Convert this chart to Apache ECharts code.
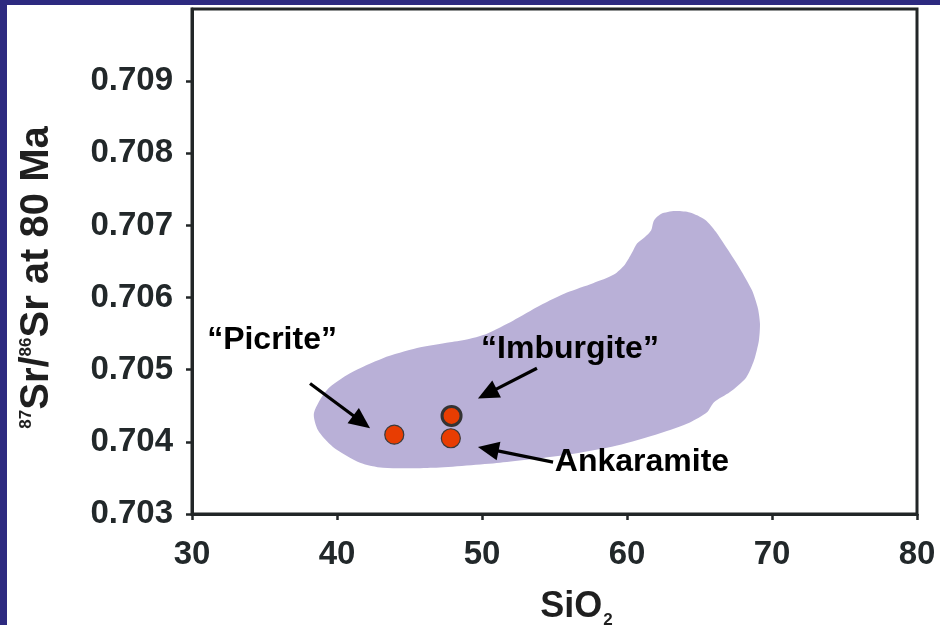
<!DOCTYPE html>
<html><head><meta charset="utf-8">
<script src="https://cdn.jsdelivr.net/npm/echarts@6/dist/echarts.min.js"></script>
<style>
html,body{margin:0;padding:0;width:940px;height:625px;background:#2d2a80;overflow:hidden}
#c{position:absolute;left:7px;top:5px;width:933px;height:620px;background:#ffffff}
</style></head><body><div id="c"></div>
<script>
// ---- data ----
const xMin = 30, xMax = 80, xStep = 10;
const yMin = 0.703, yMax = 0.710, yStep = 0.001;

const sampleNames = ['Picrite', 'Imburgite', 'Ankaramite'];
const sampleSiO2 = [43.95, 47.9, 47.85];
const sampleSr = [0.70410, 0.70436, 0.70405];

// outline of the shaded field (SiO2, 87Sr/86Sr)
const fieldSiO2 = [38.41, 38.69, 39.72, 41.59, 43.17, 46.62, 51.24, 55.86, 59.31, 62.28,
  64.34, 65.52, 66.00, 67.10, 68.21, 68.76, 69.10, 69.17, 69.03, 68.62,
  67.79, 66.90, 66.14, 65.38, 64.34, 63.31, 62.34, 61.86, 61.66, 61.24,
  60.69, 60.34, 59.86, 59.10, 57.66, 55.86, 54.00, 52.14, 50.34, 49.17,
  47.79, 45.52, 43.17, 40.90, 39.31];
const fieldSr = [0.70440, 0.70416, 0.70393, 0.70371, 0.70364, 0.70364, 0.70371, 0.70382, 0.70395, 0.70412,
  0.70427, 0.70441, 0.70455, 0.70469, 0.70489, 0.70513, 0.70541, 0.70564, 0.70585, 0.70610,
  0.70640, 0.70668, 0.70691, 0.70708, 0.70718, 0.70720, 0.70716, 0.70707, 0.70693, 0.70684,
  0.70675, 0.70662, 0.70646, 0.70632, 0.70620, 0.70607, 0.70589, 0.70568, 0.70550, 0.70543,
  0.70538, 0.70530, 0.70516, 0.70495, 0.70472];

// annotation labels and arrows
const labelTexts = ['\u201CPicrite\u201D', '\u201CImburgite\u201D', 'Ankaramite'];
const labelSiO2 = [35.52, 56.07, 61.03];
const labelSr = [0.70541, 0.70528, 0.70372];
const arrowFromSiO2 = [38.14, 53.79, 54.90];
const arrowFromSr = [0.70481, 0.70502, 0.70372];
const arrowToSiO2 = [42.28, 49.72, 49.72];
const arrowToSr = [0.70419, 0.70460, 0.70393];

// ---- chart ----
const FONT = "'Liberation Sans', Arial, Helvetica, sans-serif";
const chart = echarts.init(document.getElementById('c'), null, {renderer: 'canvas'});

const sampleData = sampleNames.map((n, i) => ({
  name: n,
  value: [sampleSiO2[i], sampleSr[i]],
  itemStyle: i === 1 ? {borderWidth: 3, borderColor: '#333333'} : {}
}));
const arrowData = arrowFromSiO2.map((x, i) => [x, arrowFromSr[i], arrowToSiO2[i], arrowToSr[i]]);
const labelData = labelTexts.map((t, i) => ({name: t, value: [labelSiO2[i], labelSr[i]]}));

chart.setOption({
  animation: false,
  backgroundColor: '#ffffff',
  grid: {left: 185, top: 4, right: 23, bottom: 111, containLabel: false, outerBoundsMode: 'none',
    show: true, borderColor: '#222627', borderWidth: 3},
  xAxis: {
    type: 'value', min: xMin, max: xMax, interval: xStep,
    name: '{m|SiO}{s|2}',
    nameLocation: 'middle', nameGap: 71,
    nameTextStyle: {
      padding: [0, 0, 0, 44],
      rich: {
        m: {fontSize: 36, fontWeight: 'bold', fontFamily: FONT, color: '#1f1f1f', lineHeight: 44},
        s: {fontSize: 17, fontWeight: 'bold', fontFamily: FONT, color: '#1f1f1f', lineHeight: 17, verticalAlign: 'top', padding: [27, 0, 0, 1]}
      }
    },
    axisLine: {show: true, lineStyle: {color: '#222627', width: 3}},
    axisTick: {show: true, length: 6, lineStyle: {color: '#222627', width: 2.5}},
    axisLabel: {margin: 24, fontSize: 33, fontWeight: 'bold', fontFamily: FONT, color: '#22282a'},
    splitLine: {show: false}
  },
  yAxis: {
    type: 'value', min: yMin, max: yMax, interval: yStep,
    name: '{p|87}{m|Sr/}{p|86}{m|Sr at 80 Ma}',
    nameLocation: 'middle', nameRotate: 90, nameGap: 133,
    nameTextStyle: {
      padding: [0, 32, 0, 0],
      rich: {
        m: {fontSize: 40, fontWeight: 'bold', fontFamily: FONT, color: '#1f1f1f', lineHeight: 44},
        p: {fontSize: 17, fontWeight: 'bold', fontFamily: FONT, color: '#1f1f1f', lineHeight: 17, verticalAlign: 'top', padding: [3, 0, 0, 0]}
      }
    },
    axisLine: {show: true, lineStyle: {color: '#222627', width: 3}},
    axisTick: {show: true, length: 6, lineStyle: {color: '#222627', width: 2.5}},
    axisLabel: {
      margin: 19, fontSize: 33, fontWeight: 'bold', fontFamily: FONT, color: '#22282a',
      padding: [0, 0, 8, 0],
      showMaxLabel: false,
      formatter: v => (v > yMax - yStep / 2 ? '' : v.toFixed(3))
    },
    splitLine: {show: false}
  },
  series: [
    {
      name: 'field', type: 'custom', silent: true, z: 1,
      data: [[fieldSiO2[0], fieldSr[0]]],
      renderItem: (params, api) => {
        const pts = fieldSiO2.map((x, i) => api.coord([x, fieldSr[i]]));
        return {type: 'polygon', shape: {points: pts, smooth: 0.25}, style: {fill: '#b9b0d7'}};
      }
    },
    {
      name: 'arrows', type: 'custom', silent: true, z: 3,
      data: arrowData,
      renderItem: (params, api) => {
        const a = api.coord([api.value(0), api.value(1)]);
        const b = api.coord([api.value(2), api.value(3)]);
        const dx = b[0] - a[0], dy = b[1] - a[1];
        const len = Math.sqrt(dx * dx + dy * dy);
        const ux = dx / len, uy = dy / len;
        const hl = 21, hw = 9.5;
        const bx = b[0] - ux * hl, by = b[1] - uy * hl;
        return {
          type: 'group',
          children: [
            {type: 'line', shape: {x1: a[0], y1: a[1], x2: bx + ux * 2, y2: by + uy * 2},
              style: {stroke: '#000000', lineWidth: 3.2}},
            {type: 'polygon', shape: {points: [[b[0], b[1]], [bx - uy * hw, by + ux * hw], [bx + uy * hw, by - ux * hw]]},
              style: {fill: '#000000'}}
          ]
        };
      }
    },
    {
      name: 'labels', type: 'custom', silent: true, z: 4,
      data: labelData,
      renderItem: (params, api) => {
        const p = api.coord([api.value(0), api.value(1)]);
        return {
          type: 'text',
          style: {text: labelTexts[params.dataIndex], x: p[0], y: p[1], align: 'center', verticalAlign: 'middle',
            font: 'bold 32px ' + FONT, fill: '#000000'}
        };
      }
    },
    {
      name: 'samples', type: 'scatter', z: 5,
      symbol: 'circle', symbolSize: 19,
      itemStyle: {color: '#e83d02', borderColor: '#3a3a3a', borderWidth: 1.2, opacity: 1},
      data: sampleData
    }
  ]
});
</script></body></html>
